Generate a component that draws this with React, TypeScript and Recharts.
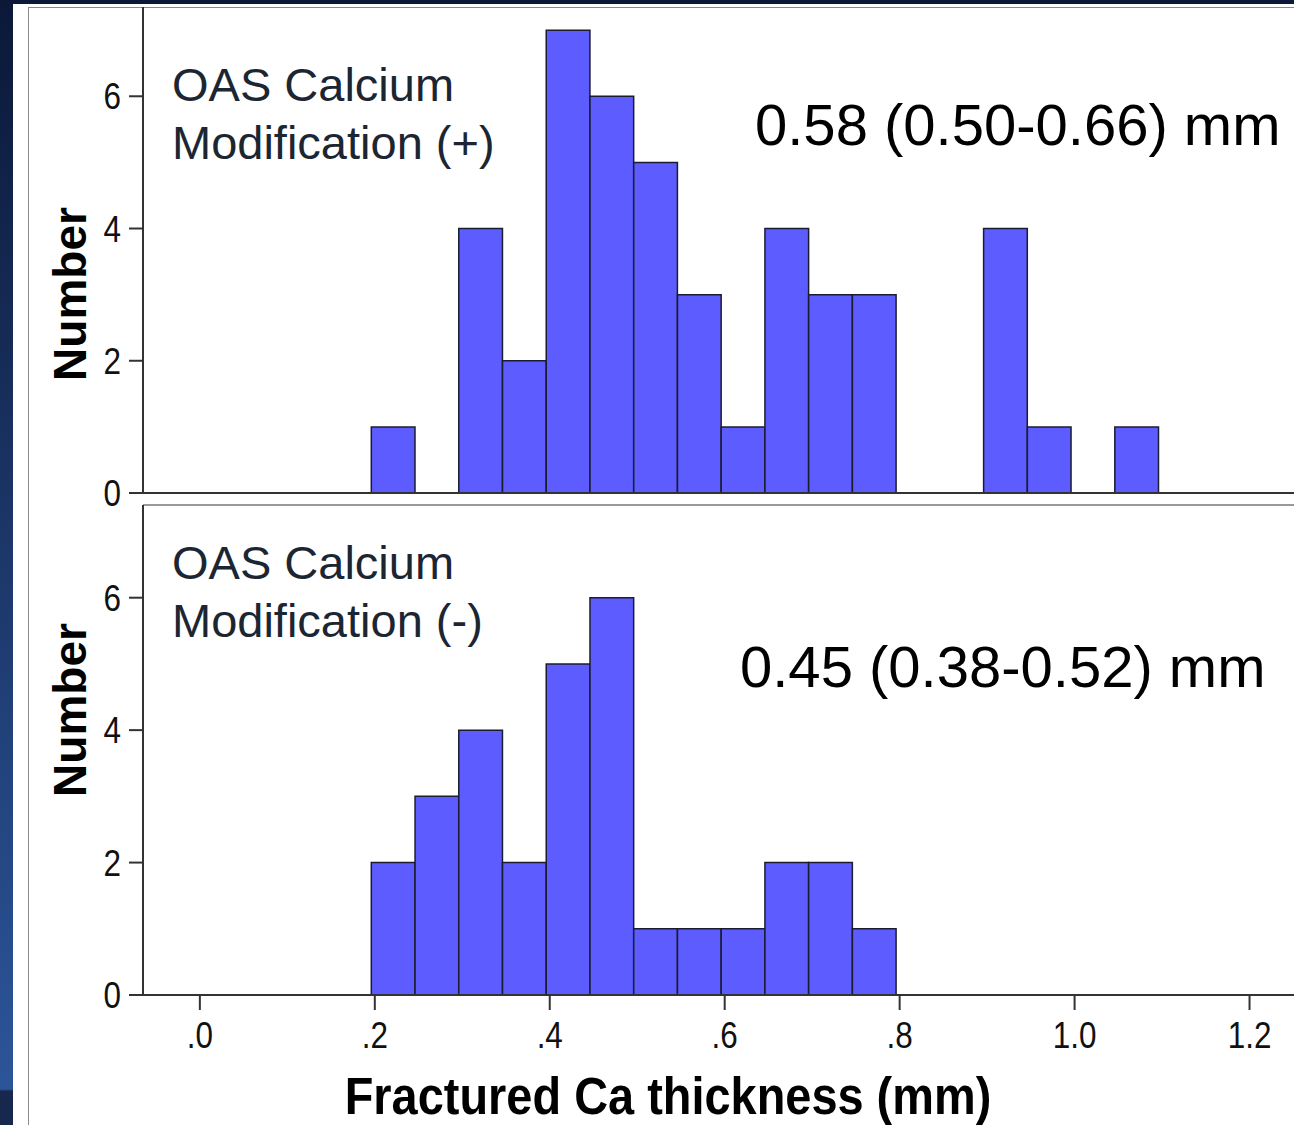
import { Bar, BarChart, ReferenceLine, XAxis, YAxis } from 'recharts';

// histogram bins of 0.05 mm, starting at 0.20
const BIN_STARTS = [0.2, 0.25, 0.3, 0.35, 0.4, 0.45, 0.5, 0.55, 0.6, 0.65, 0.7, 0.75, 0.8, 0.85, 0.9, 0.95, 1.0, 1.05];
const COUNTS_WITH_MOD = [1, 0, 4, 2, 7, 6, 5, 3, 1, 4, 3, 3, 0, 0, 4, 1, 0, 1];
const COUNTS_WITHOUT_MOD = [2, 3, 4, 2, 5, 6, 1, 1, 1, 2, 2, 1, 0, 0, 0, 0, 0, 0];
const X_TICKS = [0, 0.2, 0.4, 0.6, 0.8, 1.0, 1.2];
const Y_TICKS = [0, 2, 4, 6];
const BIN_WIDTH = 0.05;
// SPSS draws the bins a few pixels left of the tick marks
const BIN_SHIFT = -0.004;

const X_MIN = -0.065;
const X_MAX = 1.3;
const CHART_W = 1309;
const AXIS_W = 115;
// a hair under the bin width so recharts does not shrink the bars
const BAR_PX = ((CHART_W - AXIS_W) / (X_MAX - X_MIN)) * BIN_WIDTH - 0.05;

const FONT = '"Liberation Sans", Arial, sans-serif';
const BAR_FILL = '#5c5cff';
const BAR_STROKE = '#1c1c30';
const AXIS_COLOR = '#333';

const toRows = (counts: number[]) =>
  BIN_STARTS.map((start, i) => ({ mid: start + BIN_WIDTH / 2 + BIN_SHIFT, count: counts[i] }));

const fmtX = (v: number) => (v < 1 ? '.' + Math.round(v * 10) : v.toFixed(1));

// SPSS-style narrow tick text
const YTick = ({ x, y, payload }: any) => (
  <text transform={`translate(${x} ${y}) scale(0.85 1)`} x={0} y={0} dy={13} textAnchor="end" fontSize={37} fill="#111" fontFamily={FONT}>
    {payload.value}
  </text>
);

const XTick = ({ x, y, payload }: any) => (
  <text transform={`translate(${x} ${y}) scale(0.85 1)`} x={0} y={0} dy={38} textAnchor="middle" fontSize={37} fill="#111" fontFamily={FONT}>
    {fmtX(payload.value)}
  </text>
);

function Histogram({ counts, height, bottom, yMax, showX }: { counts: number[]; height: number; bottom: number; yMax: number; showX: boolean }) {
  return (
    <BarChart width={CHART_W} height={height} data={toRows(counts)} margin={{ top: 0, right: 0, left: 0, bottom }} barCategoryGap={0} barGap={0}>
      <XAxis
        type="number"
        dataKey="mid"
        domain={[X_MIN, X_MAX]}
        ticks={X_TICKS}
        interval={0}
        allowDataOverflow
        hide={!showX}
        height={70}
        tickSize={15}
        tickMargin={0}
        axisLine={{ stroke: AXIS_COLOR, strokeWidth: 2 }}
        tickLine={{ stroke: AXIS_COLOR, strokeWidth: 2 }}
        tick={<XTick />}
      />
      <YAxis
        type="number"
        domain={[0, yMax]}
        ticks={Y_TICKS}
        interval={0}
        width={AXIS_W}
        allowDataOverflow
        tickSize={14}
        tickMargin={8}
        axisLine={{ stroke: AXIS_COLOR, strokeWidth: 2 }}
        tickLine={{ stroke: AXIS_COLOR, strokeWidth: 2 }}
        tick={<YTick />}
      />
      {!showX && <ReferenceLine y={0} stroke={AXIS_COLOR} strokeWidth={2} ifOverflow="visible" />}
      <Bar dataKey="count" fill={BAR_FILL} stroke={BAR_STROKE} strokeWidth={1.5} barSize={BAR_PX} isAnimationActive={false} />
    </BarChart>
  );
}

export default function App() {
  return (
    <div
      style={{
        position: 'absolute',
        left: 0,
        top: 0,
        width: 1294,
        height: 1125,
        overflow: 'hidden',
        fontFamily: FONT,
        background: 'linear-gradient(to bottom, #0b1838 0%, #2c5599 96.8%, #17284f 97%, #17284f 100%)',
      }}
    >
      <div style={{ position: 'absolute', left: 13, top: 4, right: 0, bottom: 0, background: '#fff' }} />
      <div style={{ position: 'absolute', left: 28, top: 7, width: 1400, height: 1300, border: '1.5px solid #8a8a8a' }} />
      <div style={{ position: 'absolute', left: 143, top: 504, width: 1200, height: 1.5, background: '#999' }} />

      <div style={{ position: 'absolute', left: 28, top: 7 }}>
        <Histogram counts={COUNTS_WITH_MOD} height={520} bottom={34} yMax={7.35} showX={false} />
      </div>
      <div style={{ position: 'absolute', left: 28, top: 505 }}>
        <Histogram counts={COUNTS_WITHOUT_MOD} height={560} bottom={0} yMax={7.4} showX />
      </div>

      <svg width={1294} height={1125} style={{ position: 'absolute', left: 0, top: 0, pointerEvents: 'none', overflow: 'visible' }} fontFamily={FONT}>
        <text x={172} y={101} fontSize={47} fill="#1c2633">OAS Calcium</text>
        <text x={172} y={159} fontSize={47} fill="#1c2633">Modification (+)</text>
        <text x={755} y={145} fontSize={58} fill="#000">0.58 (0.50-0.66) mm</text>

        <text x={172} y={579} fontSize={47} fill="#1c2633">OAS Calcium</text>
        <text x={172} y={637} fontSize={47} fill="#1c2633">Modification (-)</text>
        <text x={740} y={687} fontSize={58} fill="#000">0.45 (0.38-0.52) mm</text>

        <text x={86} y={294} fontSize={46} fontWeight="bold" textAnchor="middle" transform="rotate(-90 86 294)">Number</text>
        <text x={86} y={710} fontSize={46} fontWeight="bold" textAnchor="middle" transform="rotate(-90 86 710)">Number</text>

        <text transform="translate(668 1114) scale(0.92 1)" x={0} y={0} fontSize={51} fontWeight="bold" textAnchor="middle">
          Fractured Ca thickness (mm)
        </text>
      </svg>
    </div>
  );
}
